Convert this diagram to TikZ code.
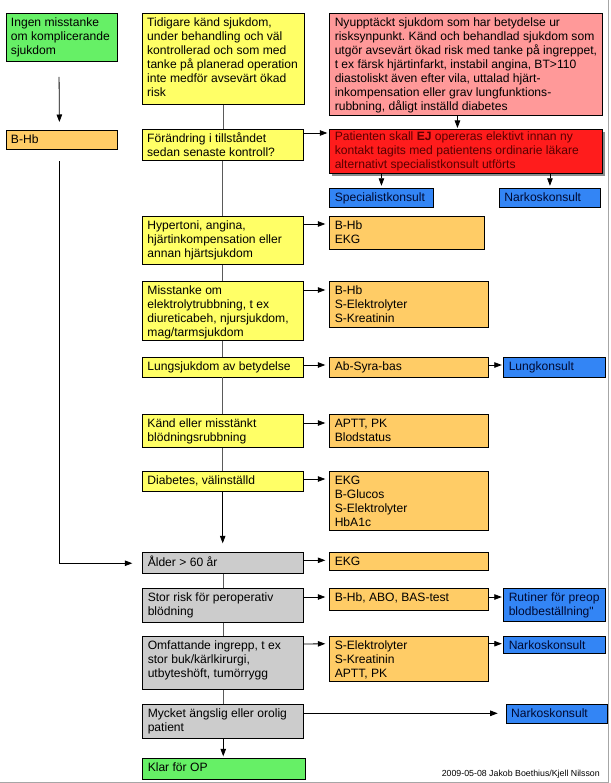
\documentclass[tikz,border=0pt]{standalone}
\usepackage{fontspec}
\setmainfont{Liberation Sans}
\usetikzlibrary{arrows.meta,shadows}
\frenchspacing
\definecolor{cgreen}{RGB}{102,240,102}
\definecolor{cyellow}{RGB}{255,255,102}
\definecolor{corange}{RGB}{255,204,102}
\definecolor{cpink}{RGB}{255,153,153}
\definecolor{cred}{RGB}{255,28,28}
\definecolor{cblue}{RGB}{51,133,245}
\definecolor{cgray}{RGB}{204,204,204}
\definecolor{cspine}{RGB}{90,90,90}
\definecolor{credtext}{RGB}{90,0,0}
\definecolor{cbluetext}{RGB}{0,10,50}
\newcommand\bxpad{3.2pt}
% name, x, y, w, h, style, text
\newcommand\bx[7]{%
  \node[#6, anchor=north west, minimum width=#4pt, minimum height=#5pt, inner sep=0pt] (#1) at (#2,#3)
  {\parbox[c][#5pt][t]{#4pt}{\vspace*{\bxpad}\raggedright\frenchspacing\leftskip=5pt\relax\strut #7}};}
\begin{document}
\begin{tikzpicture}[x=1pt,y=-1pt,
  box/.style={draw=black, line width=0.9pt, font=\fontsize{12.1}{14}\selectfont},
  green/.style={box, fill=cgreen},
  yel/.style={box, fill=cyellow},
  ora/.style={box, fill=corange},
  pinkbox/.style={box, fill=cpink},
  redbox/.style={box, fill=cred, text=credtext, drop shadow={shadow xshift=2.5pt, shadow yshift=-2.5pt, opacity=0.45, fill=black}},
  blu/.style={box, fill=cblue, text=cbluetext},
  gry/.style={box, fill=cgray},
  arr/.style={-{Triangle[length=7.5pt,width=5.5pt]}, line width=0.8pt, black},
  spine/.style={line width=0.9pt, cspine},
  foot/.style={font=\fontsize{8.8}{10}\selectfont, inner sep=0pt}]
\useasboundingbox (0,0) rectangle (610,783);
\fill[white] (0,0) rectangle (610,783);
\draw[gray!70, line width=1pt] (0,782.5) -- (608.8,782.5) -- (608.8,0);

% left column
\bx{g1}{5.5}{13.3}{111}{47.7}{green}{Ingen misstanke\\om komplicerande\\sjukdom}
\bx{bhb}{5.5}{130}{111}{19.3}{ora}{B-Hb}

% middle column
\bx{tid}{141.7}{13.3}{162.6}{91}{yel}{Tidigare känd sjukdom,\\under behandling och väl\\kontrollerad och som med\\tanke på planerad operation\\inte medför avsevärt ökad\\risk}
\bx{fr}{141.7}{129}{161}{31}{yel}{Förändring i tillståndet\\sedan senaste kontroll?}
\bx{hyp}{142}{216}{160.5}{48}{yel}{Hypertoni, angina,\\hjärtinkompensation eller\\annan hjärtsjukdom}
\bx{mis}{142}{281}{160.5}{59}{yel}{Misstanke om\\elektrolytrubbning, t ex\\diureticabeh, njursjukdom,\\mag/tarmsjukdom}
\bx{lung}{142}{357}{160.5}{19.5}{yel}{Lungsjukdom av betydelse}
\bx{kand}{142}{414}{160.5}{33}{yel}{Känd eller misstänkt\\blödningsrubbning}
\bx{dia}{142}{471}{160.5}{19.5}{yel}{Diabetes, välinställd}
\bx{ald}{142.3}{552.3}{161}{21}{gry}{Ålder > 60 år}
\bx{stor}{142.3}{588}{161}{33.7}{gry}{Stor risk för peroperativ\\blödning}
\bx{omf}{142.3}{636}{161}{53}{gry}{Omfattande ingrepp, t ex\\stor buk/kärlkirurgi,\\utbyteshöft, tumörrygg}
\bx{myc}{142.3}{704.3}{161}{34}{gry}{Mycket ängslig eller orolig\\patient}
\bx{klar}{142.3}{758.3}{162.7}{21}{green}{Klar för OP}

% right top
\bx{pink}{329.3}{13.3}{272.4}{101.7}{pinkbox}{Nyupptäckt sjukdom som har betydelse ur\\risksynpunkt. Känd och behandlad sjukdom som\\utgör avsevärt ökad risk med tanke på ingreppet,\\t ex färsk hjärtinfarkt, instabil angina, BT>110\\diastoliskt även efter vila, uttalad hjärt-\\inkompensation eller grav lungfunktions-\\rubbning, dåligt inställd diabetes}
{\renewcommand\bxpad{0.8pt}
\bx{red}{329.3}{129}{272.4}{44.3}{redbox}{Patienten skall \textbf{EJ} opereras elektivt innan ny\\kontakt tagits med patientens ordinarie läkare\\alternativt specialistkonsult utförts}}
\bx{spec}{329.3}{188.3}{103.4}{18.4}{blu}{Specialistkonsult}
\bx{nk1}{499}{188.3}{101}{18.4}{blu}{Narkoskonsult}

% tests
\bx{t1}{329.3}{216}{155}{33}{ora}{B-Hb\\EKG}
\bx{t2}{329.3}{281}{159}{46}{ora}{B-Hb\\S-Elektrolyter\\S-Kreatinin}
\bx{t3}{329.3}{357}{159}{19.5}{ora}{Ab-Syra-bas}
\bx{lk}{503.3}{357}{101.7}{19.5}{blu}{Lungkonsult}
\bx{t4}{329.3}{414}{159}{33}{ora}{APTT, PK\\Blodstatus}
\bx{t5}{329.3}{471}{159}{59}{ora}{EKG\\B-Glucos\\S-Elektrolyter\\HbA1c}
\bx{t6}{329.3}{552.3}{159}{17.7}{ora}{EKG}
\bx{t7}{329.3}{588}{159}{22.3}{ora}{B-Hb, ABO, BAS-test}
\bx{rut}{503.3}{588}{101.7}{32.7}{blu}{Rutiner för preop\\blodbeställning\textquotedbl}
\bx{t8}{329.3}{635.7}{159}{45}{ora}{S-Elektrolyter\\S-Kreatinin\\APTT, PK}
\bx{nk2}{503.3}{635.7}{101.7}{17.6}{blu}{Narkoskonsult}
\bx{nk3}{505.7}{704.3}{101.6}{19}{blu}{Narkoskonsult}

\node[foot, anchor=base east] (foot) at (600,776.7) {2009-05-08 Jakob Boethius/Kjell Nilsson};

% left spine
\draw[arr, shorten <=15pt, shorten >=8pt] ([xshift=-2.5pt]g1.south) -- ([xshift=-2pt]bhb.north);
\draw[arr, shorten <=11pt, shorten >=10pt] ([xshift=-2pt]bhb.south) |- (ald.west);

% middle spine
\draw[spine] (tid.south) -- (tid.south |- fr.north);
\draw[spine] (fr.south) -- (fr.south |- hyp.north);
\draw[spine] (hyp.south) -- (hyp.south |- mis.north);
\draw[spine] (mis.south) -- (mis.south |- lung.north);
\draw[spine] (lung.south) -- (lung.south |- kand.north);
\draw[spine] (kand.south) -- (kand.south |- dia.north);
\draw[arr, shorten >=9pt] (dia.south) -- (dia.south |- ald.north);
\draw[spine] (ald.south) -- (ald.south |- stor.north);
\draw[spine] (stor.south) -- (stor.south |- omf.north);
\draw[spine] (omf.south) -- (omf.south |- myc.north);
\draw[arr, shorten >=2pt] (myc.south) -- (myc.south |- klar.north);

% top right
\draw[arr, shorten >=2pt] ([yshift=-4pt]fr.north east) -- ([yshift=-4pt]red.north west);
\draw[arr, shorten >=1pt] ([xshift=-8.5pt]pink.south) -- ([xshift=-8.5pt]red.north);
\draw[arr, shorten >=2.5pt] (red.south -| spec.north) -- (spec.north);
\draw[arr, shorten >=2.5pt] (red.south -| nk1.north) -- (nk1.north);

% to tests
\draw[arr, shorten >=4pt] ([yshift=-8pt]hyp.north east) -- ([yshift=-8pt]t1.north west);
\draw[arr, shorten >=4pt] ([yshift=-9pt]mis.north east) -- ([yshift=-9pt]t2.north west);
\draw[arr, shorten >=4pt] ([yshift=-8pt]lung.north east) -- ([yshift=-8pt]t3.north west);
\draw[arr, shorten >=4pt] ([yshift=-9pt]kand.north east) -- ([yshift=-9pt]t4.north west);
\draw[arr, shorten >=4pt] ([yshift=-8pt]dia.north east) -- ([yshift=-8pt]t5.north west);
\draw[arr, shorten >=4pt] ([yshift=-8pt]ald.north east) -- ([yshift=-8pt]t6.north west);
\draw[arr, shorten >=4pt] ([yshift=-9pt]stor.north east) -- ([yshift=-9pt]t7.north west);
\draw[arr, shorten >=4pt] ([yshift=-8pt]omf.north east) -- ([yshift=-8pt]t8.north west);
\draw[arr, shorten >=8pt] ([yshift=-9pt]myc.north east) -- ([yshift=-9pt]nk3.north west);

% tests to consults
\draw[arr, shorten >=1.5pt] ([yshift=-8pt]t3.north east) -- ([yshift=-8pt]lk.north west);
\draw[arr, shorten >=1.5pt] ([yshift=-9pt]t7.north east) -- ([yshift=-9pt]rut.north west);
\draw[arr, shorten >=1.5pt] ([yshift=-8pt]t8.north east) -- ([yshift=-8pt]nk2.north west);
\end{tikzpicture}
\end{document}
